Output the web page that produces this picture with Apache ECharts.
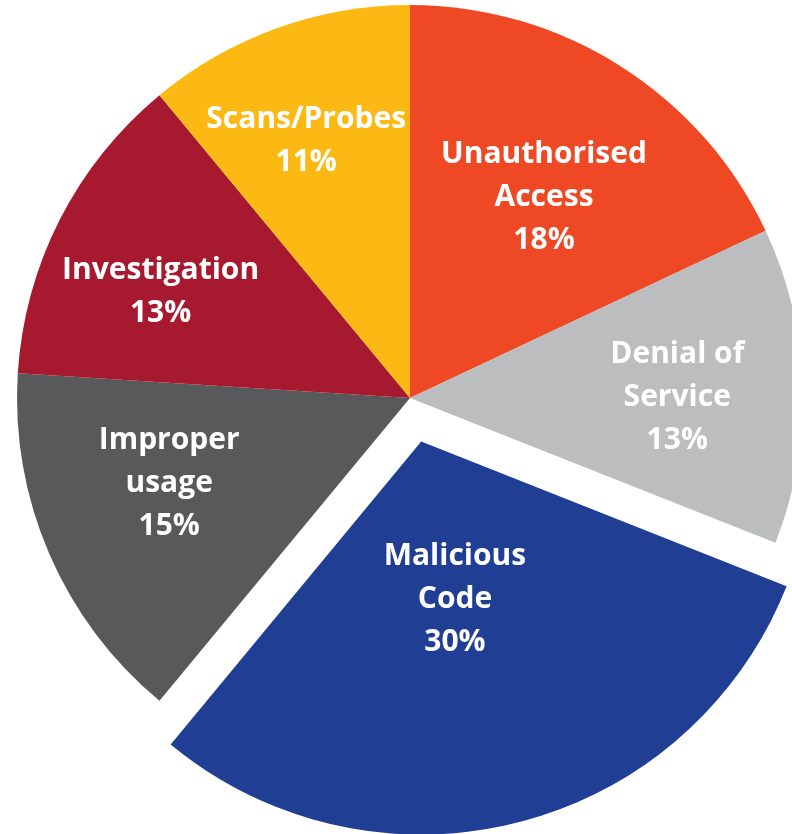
<!DOCTYPE html>
<html>
<head>
<meta charset="utf-8">
<script src="https://cdn.jsdelivr.net/npm/echarts@6/dist/echarts.min.js"></script>
<style>
  html, body { margin: 0; padding: 0; background: #ffffff; }
  #chart { width: 792px; height: 834px; }
</style>
</head>
<body>
<div id="chart"></div>
<script>
// ---- data ----
const categories = ['Unauthorised\nAccess', 'Denial of\nService', 'Malicious\nCode', 'Improper\nusage', 'Investigation', 'Scans/Probes'];
const values = [18, 13, 30, 15, 13, 11];
const explodedIndex = 2;

// ---- styles ----
const colors = ['#EE4824', '#BCBDBF', '#1F3E94', '#58595B', '#A6192E', '#FDB913'];
const labelRadiusFrac = [0.613, 0.68, 0.41, 0.65, 0.69, 0.705];
const labelAngleDelta = [1.4, 1.6, 2.3, 3.9, -3.9, -2.2];
const CX = 410, CY = 398, R = 393, OFFSET = 45;

const total = values.reduce((a, b) => a + b, 0);
function midAngle(i) {
  let cum = 0;
  for (let k = 0; k < i; k++) cum += values[k];
  return (cum + values[i] / 2) / total * 360; // degrees clockwise from top
}
const exRad = midAngle(explodedIndex) * Math.PI / 180;
const EX = CX + OFFSET * Math.sin(exRad);
const EY = CY - OFFSET * Math.cos(exRad);

function makeSeries(cx, cy, visibleFn) {
  return {
    type: 'pie',
    center: [cx, cy],
    radius: [0, R],
    startAngle: 90,
    clockwise: true,
    silent: true,
    avoidLabelOverlap: false,
    emphasis: { disabled: true },
    itemStyle: { borderWidth: 0 },
    label: {
      show: true,
      position: 'inside',
      formatter: '{b}\n{c}%',
      color: '#ffffff',
      fontFamily: 'Open Sans',
      fontWeight: 'bold',
      fontSize: 30,
      lineHeight: 43,
      align: 'center'
    },
    labelLine: { show: false },
    labelLayout: function (params) {
      const i = params.dataIndex;
      const a = midAngle(i);
      const la = (a + labelAngleDelta[i]) * Math.PI / 180;
      const r = labelRadiusFrac[i] * R;
      return {
        x: cx + r * Math.sin(la),
        y: cy - r * Math.cos(la),
        align: 'center',
        verticalAlign: 'middle'
      };
    },
    data: categories.map((name, i) => {
      const vis = visibleFn(i);
      return {
        name: name,
        value: values[i],
        itemStyle: { color: vis ? colors[i] : 'rgba(0,0,0,0)' },
        label: { show: vis }
      };
    })
  };
}

const chart = echarts.init(document.getElementById('chart'), null, { renderer: 'canvas' });
chart.setOption({
  animation: false,
  backgroundColor: '#ffffff',
  series: [
    makeSeries(CX, CY, i => i !== explodedIndex),
    makeSeries(EX, EY, i => i === explodedIndex)
  ]
});
</script>
</body>
</html>
